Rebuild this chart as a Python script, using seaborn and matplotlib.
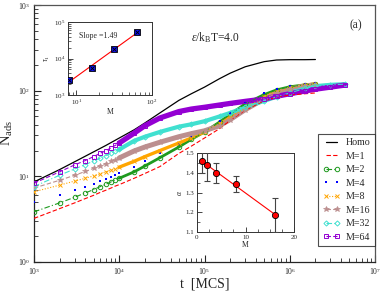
import numpy as np
import pandas as pd
import matplotlib
matplotlib.use("Agg")
import matplotlib.pyplot as plt
import seaborn as sns
from matplotlib.ticker import LogLocator, NullFormatter, MultipleLocator

# ---------------- data ----------------
t_homo = [1e3, 2e3, 3e3, 5e3, 7e3, 1e4, 1.5e4, 2e4, 3e4, 5e4, 7e4, 1e5, 1.5e5, 2e5, 3e5, 5e5, 7e5, 1e6, 1.5e6, 2e6]
n_homo = [8.6, 12.0, 14.8, 19.3, 23, 28, 35, 42, 55, 77, 92, 110, 138, 160, 190, 218, 228, 230, 230, 231]

t_m = [1e3, 2e3, 3e3, 4e3, 5e3, 6e3, 7e3, 8e3, 9e3, 1e4, 1.5e4, 2e4, 3e4, 5e4, 7e4, 1e5,
       1.5e5, 2e5, 3e5, 5e5, 7e5, 1e6, 1.5e6, 2e6]
t_long = t_m + [3e6, 4.4e6]

n_m1 = [3.23, 4.2, 4.9, 5.5, 6.0, 6.5, 6.9, 7.3, 7.7, 8.0, 9.5, 10.8, 13, 18.5, 22.5, 28,
        36, 45, 59, 76, 84, 89, 92, 94]
n_m2 = [3.85, 4.9, 5.7, 6.4, 7.0, 7.6, 8.1, 8.6, 9.1, 9.5, 11.3, 13.2, 16.5, 22, 27, 33,
        43, 53, 70, 90, 102, 111, 117, 120]
n_m4 = [5.05, 6.1, 6.9, 7.6, 8.2, 8.8, 9.3, 9.8, 10.3, 10.8, 12.8, 15, 18.5, 24, 28.5, 34,
        44, 55, 72, 93, 104, 113, 120, 124]
n_m8 = [6.6, 7.9, 8.8, 9.5, 10.1, 10.7, 11.3, 11.8, 12.3, 12.8, 15, 17, 20, 24.5, 28, 33,
        41, 49, 63, 84, 97, 107, 116, 120]
n_m16 = [7.3, 9.0, 10.3, 11.4, 12.4, 13.3, 14.1, 14.9, 15.7, 16.4, 19.8, 22, 25, 29, 31.5, 34,
         39, 46, 60, 80, 93, 104, 113, 117]
n_m32 = [7.6, 10.3, 12.2, 13.7, 15.1, 16.3, 17.5, 18.6, 19.6, 20.6, 26, 29, 33, 38, 40.5, 44,
         50, 55, 64, 76, 85, 94, 106, 113, 117, 119]
n_m64 = [8.3, 11.3, 13.6, 15.3, 17, 18.6, 20, 21.5, 23, 24.5, 32, 39, 48, 57, 61, 64,
         68, 71, 75, 80, 86, 92, 99, 104, 110, 116]

# inset 1: tau_1 vs M
m_tau = [8, 16, 32, 64]
tau1 = [2500, 5500, 18000, 54000]
# inset 2: alpha vs M
m_alpha = [1, 2, 4, 8, 16]
alpha = [1.462, 1.437, 1.398, 1.343, 1.187]
alpha_err = [0.065, 0.08, 0.05, 0.04, 0.085]

# ---------------- style ----------------
sns.set_style("ticks")
plt.rcParams["font.family"] = ["Liberation Serif", "DejaVu Serif"]
plt.rcParams["mathtext.fontset"] = "custom"
plt.rcParams["mathtext.rm"] = "Liberation Serif"
plt.rcParams["mathtext.it"] = "Liberation Serif:italic"
plt.rcParams["axes.linewidth"] = 0.9

fig = plt.figure(figsize=(3.82, 2.91), dpi=100)
ax = fig.add_axes([34/382, 1-262/291, (375-34)/382, (262-5)/291])

series = [
    ("M=1", t_m, n_m1, "#ff0000", (0, (4, 2)), None, {}, 0),
    ("M=2", t_m, n_m2, "#1f9a1f", (0, (5, 2, 1, 2)), "o", dict(mfc="none", ms=3.2, mew=0.7), 2.0),
    ("M=4", t_m, n_m4, "#0000ff", "none", "s", dict(ms=2.0, mew=0), 0),
    ("M=8", t_m, n_m8, "#ffa500", (0, (1, 1.5)), "x", dict(ms=3.0, mew=0.7), 2.4),
    ("M=16", t_m, n_m16, "#bc8f8f", (0, (4, 2)), "*", dict(ms=4.0, mew=0.5), 3.6),
    ("M=32", t_long, n_m32, "#40e0d0", (0, (5, 2, 1, 2)), "D", dict(mfc="none", ms=2.6, mew=0.7), 3.0),
    ("M=64", t_long, n_m64, "#9400d3", (0, (4, 2)), "s", dict(mfc="none", ms=3.0, mew=0.7), 3.8),
]

handles = []
labels = []

sns.lineplot(x=t_homo, y=n_homo, ax=ax, color="black", lw=0.9, estimator=None, sort=False)
handles.append(ax.get_lines()[-1]); labels.append("Homo")

for name, tt, nn, col, ls, mk, mkw, band in series:
    tt_a = np.array(tt); nn_a = np.array(nn)
    if band > 0:
        sel = tt_a >= 1e4
        sns.lineplot(x=tt_a[sel], y=nn_a[sel], ax=ax, color=col, lw=band, estimator=None,
                     sort=False, zorder=2, solid_capstyle="round")
    kw = dict(mkw)
    if mk is not None:
        kw["marker"] = mk
        kw["mec"] = col
    sns.lineplot(x=tt_a, y=nn_a, ax=ax, color=col, lw=0.8, linestyle=ls, estimator=None,
                 sort=False, zorder=3, **kw)
    handles.append(ax.get_lines()[-1]); labels.append(name)

ax.set_xscale("log"); ax.set_yscale("log")
ax.set_xlim(1e3, 1e7); ax.set_ylim(1, 1e3)
ax.xaxis.set_major_locator(LogLocator(base=10, numticks=10))
ax.yaxis.set_major_locator(LogLocator(base=10, numticks=10))
ax.xaxis.set_minor_locator(LogLocator(base=10, subs=np.arange(2, 10), numticks=50))
ax.yaxis.set_minor_locator(LogLocator(base=10, subs=np.arange(2, 10), numticks=50))
ax.xaxis.set_minor_formatter(NullFormatter()); ax.yaxis.set_minor_formatter(NullFormatter())
ax.tick_params(which="both", direction="in", top=False, right=False, labelsize=5.5, pad=3)
ax.tick_params(which="major", length=5, width=0.8)
ax.tick_params(which="minor", length=2.8, width=0.6)
for s in ["top", "right"]:
    ax.spines[s].set_color("#555555")
ax.set_xlabel("t  [MCS]", fontsize=10, labelpad=0)
ax.set_ylabel(r"N$_{\mathrm{ads}}$", fontsize=10.5, labelpad=2)

ax.text(0.46, 0.86, r"$\epsilon$/k$_\mathrm{B}$T=4.0", transform=ax.transAxes, fontsize=8.3)
ax.text(0.925, 0.91, "(a)", transform=ax.transAxes, fontsize=8.3)

leg = ax.legend(handles, labels, loc="lower right", bbox_to_anchor=(1.0, 0.062), fontsize=7.2,
                frameon=True, fancybox=False, edgecolor="#222222", handlelength=1.7,
                handletextpad=0.6, labelspacing=0.45, borderpad=0.45, numpoints=2,
                borderaxespad=0)
leg.get_frame().set_linewidth(0.8)

# ---------------- inset 1 ----------------
ax1 = fig.add_axes([68/382, 1-95/291, (152-68)/382, (95-22)/291])
lm = np.log10(m_tau); lt = np.log10(tau1)
p = np.polyfit(lm, lt, 1)
fit_y = 10 ** np.polyval(p, lm)
sns.lineplot(x=m_tau, y=fit_y, ax=ax1, color="red", lw=0.8, estimator=None, sort=False)
sns.scatterplot(x=m_tau, y=tau1, ax=ax1, marker="s", s=16, color="#1010ee", edgecolor="black",
                linewidth=0.6, zorder=4)
sns.scatterplot(x=m_tau, y=tau1, ax=ax1, marker="x", s=9, color="black", linewidth=0.6, zorder=5)
ax1.set_xscale("log"); ax1.set_yscale("log")
ax1.set_xlim(7.8, 100); ax1.set_ylim(1e3, 1e5)
ax1.xaxis.set_minor_locator(LogLocator(base=10, subs=np.arange(2, 10), numticks=50))
ax1.yaxis.set_minor_locator(LogLocator(base=10, subs=np.arange(2, 10), numticks=50))
ax1.xaxis.set_minor_formatter(NullFormatter()); ax1.yaxis.set_minor_formatter(NullFormatter())
ax1.tick_params(which="both", direction="in", top=False, right=False, labelsize=5, pad=2)
ax1.tick_params(which="major", length=3.5, width=0.6)
ax1.tick_params(which="minor", length=2, width=0.5)
for s in ax1.spines.values():
    s.set_linewidth(0.7); s.set_color("#333333")
ax1.set_xlabel("M", fontsize=5.5, labelpad=1)
ax1.set_ylabel(r"$\tau_1$", fontsize=5.5, labelpad=1)
ax1.text(0.13, 0.78, "Slope =1.49", transform=ax1.transAxes, fontsize=5.7)

# ---------------- inset 2 ----------------
ax2 = fig.add_axes([197/382, 1-232/291, (294-197)/382, (232-153)/291])
pa = np.polyfit(m_alpha, alpha, 1)
sns.lineplot(x=m_alpha, y=np.polyval(pa, m_alpha), ax=ax2, color="red", lw=0.8, estimator=None,
             sort=False)
ax2.errorbar(m_alpha, alpha, yerr=alpha_err, fmt="none", ecolor="#444444", elinewidth=0.8,
             capsize=2.5, capthick=0.8, zorder=3)
sns.scatterplot(x=m_alpha, y=alpha, ax=ax2, marker="o", s=20, color="red", edgecolor="black",
                linewidth=0.6, zorder=5)
ax2.set_xlim(0, 20); ax2.set_ylim(1.1, 1.5)
ax2.xaxis.set_major_locator(MultipleLocator(10)); ax2.xaxis.set_minor_locator(MultipleLocator(2.5))
ax2.yaxis.set_major_locator(MultipleLocator(0.1)); ax2.yaxis.set_minor_locator(MultipleLocator(0.05))
ax2.tick_params(which="both", direction="in", top=False, right=False, labelsize=5, pad=2)
ax2.tick_params(which="major", length=3.5, width=0.6)
ax2.tick_params(which="minor", length=2, width=0.5)
for s in ax2.spines.values():
    s.set_linewidth(0.7); s.set_color("#333333")
ax2.set_xlabel("M", fontsize=5.5, labelpad=1)
ax2.set_ylabel(r"$\alpha$", fontsize=5.5, labelpad=1)

fig.savefig("out.png", dpi=100)
